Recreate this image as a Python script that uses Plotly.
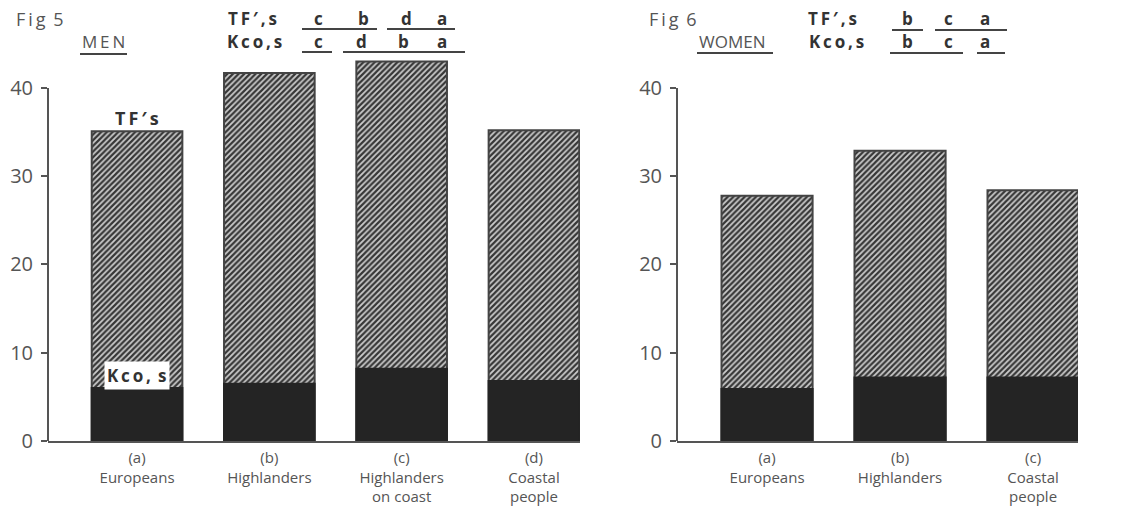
import plotly.graph_objects as go

W, H = 1131, 511
OFF = 8  # browser body margin
FW, FH = W - OFF, H - OFF

# ---- data ----
men_groups = ["(a)<br>Europeans", "(b)<br>Highlanders", "(c)<br>Highlanders<br>on coast", "(d)<br>Coastal<br>people"]
men_tf = [35.1, 41.7, 43.0, 35.2]
men_kco = [6.0, 6.5, 8.2, 6.8]

women_groups = ["(a)<br>Europeans", "(b)<br>Highlanders", "(c)<br>Coastal<br>people"]
women_tf = [27.8, 32.9, 28.4]
women_kco = [5.9, 7.2, 7.2]

y_ticks = [0, 10, 20, 30, 40]
y_axis_top = 40
men_tf_order = ["c", "b", "d", "a"]
men_kco_order = ["c", "d", "b", "a"]
women_tf_order = ["b", "c", "a"]
women_kco_order = ["b", "c", "a"]

FONT = "Open Sans"
GREY = "#555555"
DARK = "#333333"
TS = "\u2009"  # thin space for letter spacing


def px(x):
    return (x - OFF) / FW


def py(y):
    return 1 - (y - OFF) / FH


def spaced(s):
    return TS.join(list(s))


fig = go.Figure()

hatch = dict(shape="/", size=4, solidity=0.55, fgcolor="#363636", bgcolor="#cccccc", fillmode="replace")

for xa, ya, groups, tf, kco in [("x", "y", men_groups, men_tf, men_kco),
                                 ("x2", "y2", women_groups, women_tf, women_kco)]:
    fig.add_trace(go.Bar(x=groups, y=tf, xaxis=xa, yaxis=ya, width=0.685,
                         marker=dict(color="#cccccc", pattern=hatch,
                                     line=dict(color="#444444", width=2)),
                         showlegend=False, hoverinfo="y"))
    fig.add_trace(go.Bar(x=groups, y=kco, xaxis=xa, yaxis=ya, width=0.685,
                         marker=dict(color="#242424", line=dict(color="#242424", width=2)),
                         showlegend=False, hoverinfo="y"))

# 0 at pixel 441, 40 at pixel 88 -> extend range to 45 to let tall bars show
YMAX = 45
ppu = (441 - 88) / 40
ydom = [py(441), py(441 - YMAX * ppu)]
axis_common = dict(showgrid=False, zeroline=False, automargin=False)
yaxis_common = dict(axis_common, showline=False, range=[0, YMAX], tickvals=y_ticks,
                    ticks="outside", ticklen=6, tickwidth=2, tickcolor=GREY, domain=ydom,
                    tickfont=dict(family=FONT, size=20, color=GREY), ticklabelstandoff=4)
xaxis_common = dict(axis_common, showline=True, linecolor=GREY, linewidth=2, ticks="",
                    tickfont=dict(family=FONT, size=15, color=GREY),
                    type="category", ticklabelstandoff=2)

fig.update_layout(
    template="none",
    width=FW, height=FH,
    margin=dict(l=0, r=0, t=0, b=0, autoexpand=False),
    paper_bgcolor="white", plot_bgcolor="white",
    barmode="overlay",
    xaxis=dict(xaxis_common, domain=[px(48), px(580)], range=[-0.673, 3.348], anchor="y"),
    yaxis=dict(yaxis_common, anchor="x"),
    xaxis2=dict(xaxis_common, domain=[px(677), px(1078)], range=[-0.677, 2.338], anchor="y2"),
    yaxis2=dict(yaxis_common, anchor="x2"),
)

ann = []
shapes = []

# y axis lines from 0 to 40 only
for xr, yr in [("x domain", "y"), ("x2 domain", "y2")]:
    shapes.append(dict(type="line", xref=xr, yref=yr, x0=0, x1=0, y0=0, y1=y_axis_top,
                       line=dict(color=GREY, width=2), layer="above"))


def text(x, y, s, size=17, color=GREY, bold=False, xanchor="left", bg=None, pad=1):
    t = f"<b>{s}</b>" if bold else s
    d = dict(x=px(x), y=py(y), xref="paper", yref="paper", text=t, showarrow=False,
             xanchor=xanchor, yanchor="middle",
             font=dict(family=FONT, size=size, color=color))
    if bg:
        d.update(bgcolor=bg, borderpad=pad)
    ann.append(d)


def line(x0, x1, y, w=2):
    shapes.append(dict(type="line", xref="paper", yref="paper", x0=px(x0), x1=px(x1),
                       y0=py(y), y1=py(y), line=dict(color="#444444", width=w)))


# Fig 5 header
text(14, 19, spaced("Fig") + TS + " 5", size=18)
text(80, 42, spaced("MEN"), size=17)
line(80, 127, 54)
text(226, 19, spaced("TF′,s"), size=17, color=DARK, bold=True)
text(225, 42, spaced("Kco,s"), size=17, color=DARK, bold=True)
for lx, l in zip([318, 363, 406, 442], men_tf_order):
    text(lx, 19, l, size=17, color=DARK, bold=True, xanchor="center")
for lx, l in zip([318, 362, 403, 442], men_kco_order):
    text(lx, 42, l, size=17, color=DARK, bold=True, xanchor="center")
line(302, 377, 29)
line(387, 455, 29)
line(302, 332, 52)
line(343, 465, 52)

# in-plot labels
text(137, 118, spaced("TF′s"), size=18, color=DARK, bold=True, xanchor="center")
text(137, 375, spaced("Kco,") + TS + " s", size=17, color=DARK, bold=True, xanchor="center",
     bg="white", pad=2)

# Fig 6 header
text(647, 19, spaced("Fig") + TS + " 6", size=18)
text(697, 42, "WOMEN", size=17)
line(697, 773, 53)
text(806, 19, spaced("TF′,s"), size=17, color=DARK, bold=True)
text(807, 42, spaced("Kco,s"), size=17, color=DARK, bold=True)
for lx, l in zip([907, 948, 985], women_tf_order):
    text(lx, 19, l, size=17, color=DARK, bold=True, xanchor="center")
for lx, l in zip([907, 948, 985], women_kco_order):
    text(lx, 42, l, size=17, color=DARK, bold=True, xanchor="center")
line(892, 923, 30)
line(935, 1007, 30)
line(890, 963, 53)
line(977, 1005, 53)

fig.update_layout(annotations=ann, shapes=shapes)

fig.write_html("out.html")
